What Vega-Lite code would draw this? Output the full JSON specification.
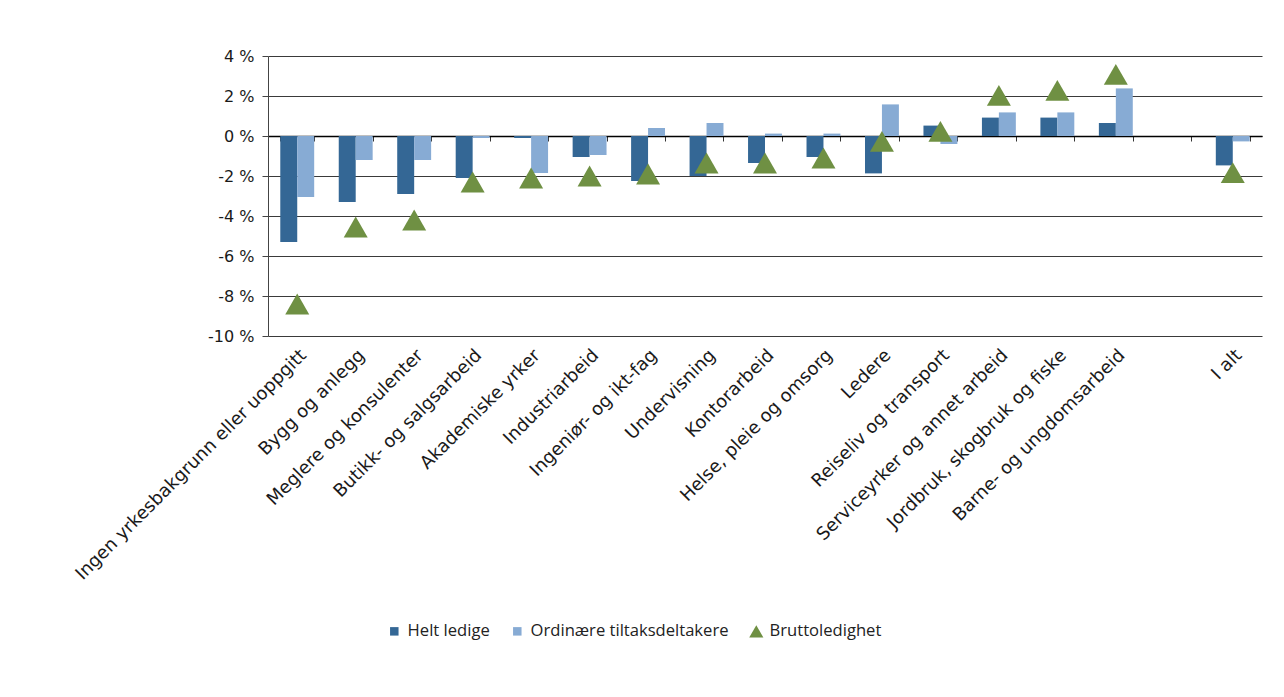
{
  "$schema": "https://vega.github.io/schema/vega-lite/v6.json",
  "autosize": "none",
  "width": 994,
  "height": 280,
  "padding": {"left": 268, "top": 56, "right": 22, "bottom": 361},
  "background": "white",
  "config": {
    "view": {"stroke": null},
    "font": "DejaVu Sans",
    "legend": {
      "orient": "none",
      "legendX": 118,
      "legendY": 567,
      "direction": "horizontal",
      "labelFontSize": 16.6,
      "labelColor": "#222222",
      "labelLimit": 0,
      "symbolSize": 200,
      "labelOffset": 5,
      "columnPadding": 19
    }
  },
  "data": {
    "values": [
      {"c": "Ingen yrkesbakgrunn eller uoppgitt", "s": "Helt ledige", "v": -5.3},
      {"c": "Ingen yrkesbakgrunn eller uoppgitt", "s": "Ordinære tiltaksdeltakere", "v": -3.05},
      {"c": "Ingen yrkesbakgrunn eller uoppgitt", "s": "Bruttoledighet", "v": -8.4},
      {"c": "Bygg og anlegg", "s": "Helt ledige", "v": -3.3},
      {"c": "Bygg og anlegg", "s": "Ordinære tiltaksdeltakere", "v": -1.2},
      {"c": "Bygg og anlegg", "s": "Bruttoledighet", "v": -4.55},
      {"c": "Meglere og konsulenter", "s": "Helt ledige", "v": -2.9},
      {"c": "Meglere og konsulenter", "s": "Ordinære tiltaksdeltakere", "v": -1.2},
      {"c": "Meglere og konsulenter", "s": "Bruttoledighet", "v": -4.2},
      {"c": "Butikk- og salgsarbeid", "s": "Helt ledige", "v": -2.1},
      {"c": "Butikk- og salgsarbeid", "s": "Ordinære tiltaksdeltakere", "v": -0.1},
      {"c": "Butikk- og salgsarbeid", "s": "Bruttoledighet", "v": -2.3},
      {"c": "Akademiske yrker", "s": "Helt ledige", "v": -0.1},
      {"c": "Akademiske yrker", "s": "Ordinære tiltaksdeltakere", "v": -1.85},
      {"c": "Akademiske yrker", "s": "Bruttoledighet", "v": -2.1},
      {"c": "Industriarbeid", "s": "Helt ledige", "v": -1.05},
      {"c": "Industriarbeid", "s": "Ordinære tiltaksdeltakere", "v": -0.95},
      {"c": "Industriarbeid", "s": "Bruttoledighet", "v": -2.0},
      {"c": "Ingeniør- og ikt-fag", "s": "Helt ledige", "v": -2.25},
      {"c": "Ingeniør- og ikt-fag", "s": "Ordinære tiltaksdeltakere", "v": 0.4},
      {"c": "Ingeniør- og ikt-fag", "s": "Bruttoledighet", "v": -1.9},
      {"c": "Undervisning", "s": "Helt ledige", "v": -2.0},
      {"c": "Undervisning", "s": "Ordinære tiltaksdeltakere", "v": 0.65},
      {"c": "Undervisning", "s": "Bruttoledighet", "v": -1.35},
      {"c": "Kontorarbeid", "s": "Helt ledige", "v": -1.35},
      {"c": "Kontorarbeid", "s": "Ordinære tiltaksdeltakere", "v": 0.12},
      {"c": "Kontorarbeid", "s": "Bruttoledighet", "v": -1.35},
      {"c": "Helse, pleie og omsorg", "s": "Helt ledige", "v": -1.05},
      {"c": "Helse, pleie og omsorg", "s": "Ordinære tiltaksdeltakere", "v": 0.12},
      {"c": "Helse, pleie og omsorg", "s": "Bruttoledighet", "v": -1.1},
      {"c": "Ledere", "s": "Helt ledige", "v": -1.87},
      {"c": "Ledere", "s": "Ordinære tiltaksdeltakere", "v": 1.58},
      {"c": "Ledere", "s": "Bruttoledighet", "v": -0.27},
      {"c": "Reiseliv og transport", "s": "Helt ledige", "v": 0.52},
      {"c": "Reiseliv og transport", "s": "Ordinære tiltaksdeltakere", "v": -0.4},
      {"c": "Reiseliv og transport", "s": "Bruttoledighet", "v": 0.23},
      {"c": "Serviceyrker og annet arbeid", "s": "Helt ledige", "v": 0.92},
      {"c": "Serviceyrker og annet arbeid", "s": "Ordinære tiltaksdeltakere", "v": 1.18},
      {"c": "Serviceyrker og annet arbeid", "s": "Bruttoledighet", "v": 2.03},
      {"c": "Jordbruk, skogbruk og fiske", "s": "Helt ledige", "v": 0.92},
      {"c": "Jordbruk, skogbruk og fiske", "s": "Ordinære tiltaksdeltakere", "v": 1.18},
      {"c": "Jordbruk, skogbruk og fiske", "s": "Bruttoledighet", "v": 2.28},
      {"c": "Barne- og ungdomsarbeid", "s": "Helt ledige", "v": 0.65},
      {"c": "Barne- og ungdomsarbeid", "s": "Ordinære tiltaksdeltakere", "v": 2.38},
      {"c": "Barne- og ungdomsarbeid", "s": "Bruttoledighet", "v": 3.08},
      {"c": "I alt", "s": "Helt ledige", "v": -1.47},
      {"c": "I alt", "s": "Ordinære tiltaksdeltakere", "v": -0.27},
      {"c": "I alt", "s": "Bruttoledighet", "v": -1.83}
    ]
  },
  "layer": [
    {
      "transform": [{"filter": "datum.s !== 'Bruttoledighet'"}],
      "mark": {"type": "bar"},
      "encoding": {
        "x": {
          "field": "c", "type": "nominal", "sort": null,
          "scale": {
            "domain": ["Ingen yrkesbakgrunn eller uoppgitt", "Bygg og anlegg", "Meglere og konsulenter", "Butikk- og salgsarbeid", "Akademiske yrker", "Industriarbeid", "Ingeniør- og ikt-fag", "Undervisning", "Kontorarbeid", "Helse, pleie og omsorg", "Ledere", "Reiseliv og transport", "Serviceyrker og annet arbeid", "Jordbruk, skogbruk og fiske", "Barne- og ungdomsarbeid", " ", "I alt"],
            "paddingInner": 0.42, "paddingOuter": 0.21
          },
          "axis": {
            "orient": "bottom", "title": null, "domain": false, "ticks": false, "grid": false,
            "labelFont": "DejaVu Sans",
            "labelAngle": -45, "labelFontSize": 18, "labelColor": "#1a1a1a", "labelPadding": 10, "labelLimit": 0
          }
        },
        "xOffset": {
          "field": "s", "type": "nominal",
          "scale": {"domain": ["Helt ledige", "Ordinære tiltaksdeltakere"], "paddingInner": 0, "paddingOuter": 0}
        },
        "y": {
          "field": "v", "type": "quantitative",
          "scale": {"domain": [-10, 4], "nice": false, "zero": false},
          "axis": {
            "title": null, "values": [-10, -8, -6, -4, -2, 0, 2, 4],
            "grid": true, "gridColor": "#3a3a3a", "gridWidth": 1,
            "domain": true, "domainColor": "#444444", "ticks": true, "tickSize": 6, "tickColor": "#444444",
            "labelFont": "DejaVu Sans",
            "labelExpr": "datum.value + ' %'", "labelFontSize": 16, "labelColor": "#1a1a1a", "labelPadding": 8
          }
        },
        "color": {
          "field": "s", "type": "nominal",
          "scale": {"domain": ["Helt ledige", "Ordinære tiltaksdeltakere", "Bruttoledighet"], "range": ["#346795", "#87abd4", "#6f9043"]},
          "legend": {"title": null, "labelFont": "Open Sans"}
        }
      }
    },
    {
      "transform": [{"filter": "datum.s === 'Bruttoledighet'"}],
      "mark": {"type": "point", "filled": true, "size": 576, "opacity": 1},
      "encoding": {
        "x": {
          "field": "c", "type": "nominal", "sort": null,
          "scale": {
            "domain": ["Ingen yrkesbakgrunn eller uoppgitt", "Bygg og anlegg", "Meglere og konsulenter", "Butikk- og salgsarbeid", "Akademiske yrker", "Industriarbeid", "Ingeniør- og ikt-fag", "Undervisning", "Kontorarbeid", "Helse, pleie og omsorg", "Ledere", "Reiseliv og transport", "Serviceyrker og annet arbeid", "Jordbruk, skogbruk og fiske", "Barne- og ungdomsarbeid", " ", "I alt"],
            "paddingInner": 0.42, "paddingOuter": 0.21
          },
          "axis": {
            "orient": "bottom", "offset": -200, "title": null, "labels": false, "grid": false,
            "domain": true, "domainColor": "#000000", "domainWidth": 1.5,
            "ticks": true, "tickBand": "extent", "tickSize": 5, "tickColor": "#333333"
          }
        },
        "y": {
          "field": "v", "type": "quantitative",
          "scale": {"domain": [-10, 4], "nice": false, "zero": false},
          "axis": {
            "title": null, "values": [-10, -8, -6, -4, -2, 0, 2, 4],
            "grid": true, "gridColor": "#3a3a3a", "gridWidth": 1,
            "domain": true, "domainColor": "#444444", "ticks": true, "tickSize": 6, "tickColor": "#444444",
            "labelFont": "DejaVu Sans",
            "labelExpr": "datum.value + ' %'", "labelFontSize": 16, "labelColor": "#1a1a1a", "labelPadding": 8
          }
        },
        "color": {
          "field": "s", "type": "nominal",
          "scale": {"domain": ["Helt ledige", "Ordinære tiltaksdeltakere", "Bruttoledighet"], "range": ["#346795", "#87abd4", "#6f9043"]},
          "legend": {"title": null, "labelFont": "Open Sans"}
        },
        "shape": {
          "field": "s", "type": "nominal",
          "scale": {"domain": ["Helt ledige", "Ordinære tiltaksdeltakere", "Bruttoledighet"], "range": ["M-0.6,-0.6H0.6V0.6H-0.6Z", "M-0.6,-0.6H0.6V0.6H-0.6Z", "M-1,0.866L1,0.866L0,-0.866Z"]},
          "legend": {"title": null, "labelFont": "Open Sans"}
        }
      }
    }
  ],
  "resolve": {"axis": {"x": "independent"}}
}
